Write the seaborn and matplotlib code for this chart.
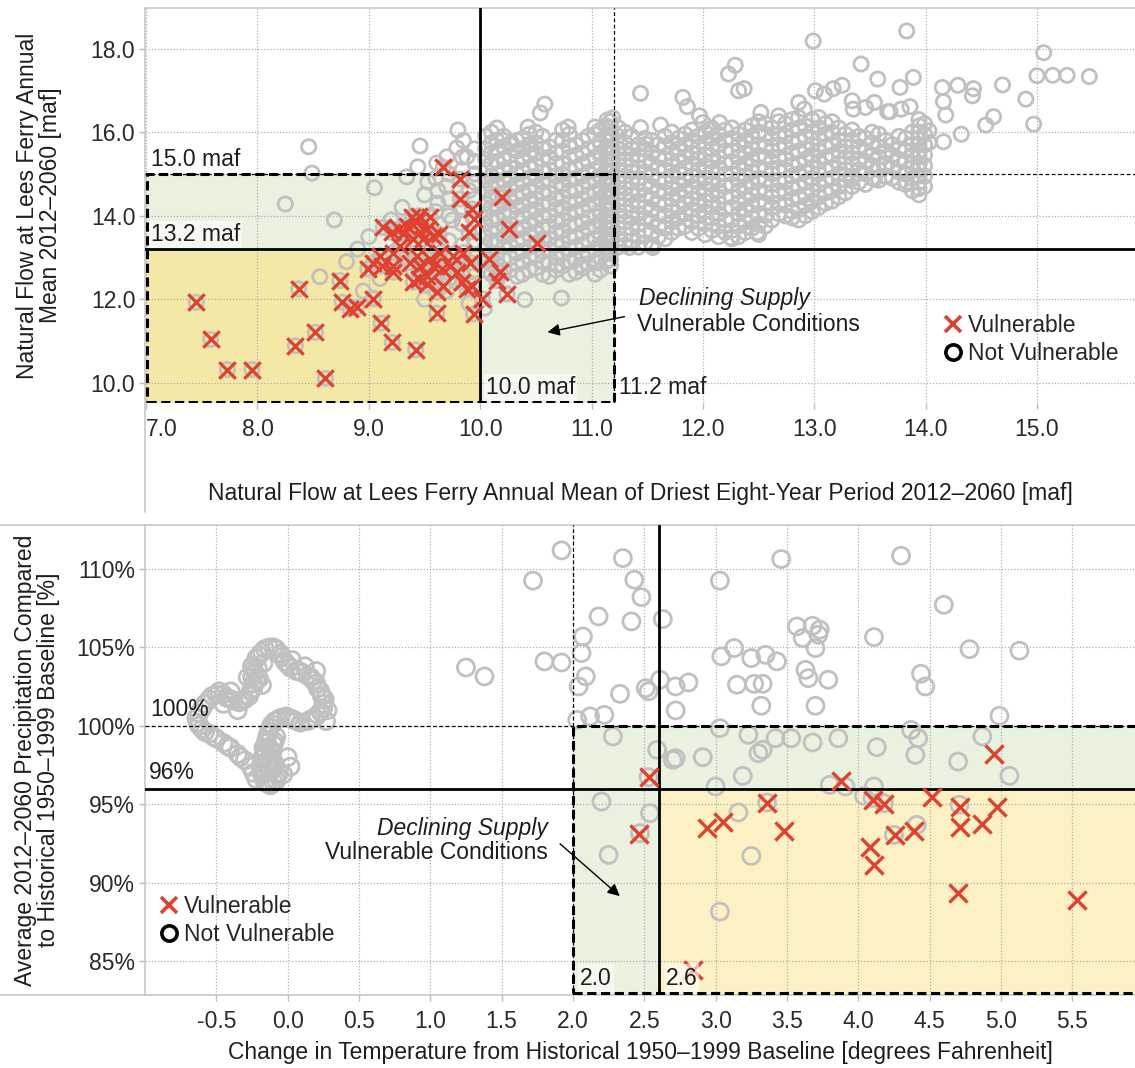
import numpy as np
import pandas as pd
import matplotlib
matplotlib.use("Agg")
import matplotlib.pyplot as plt
import seaborn as sns
from matplotlib.lines import Line2D
from matplotlib.patches import Rectangle

# ---------------- DATA ----------------
# Top panel thresholds (maf)
top_x_inner, top_x_outer = 10.0, 11.2
top_y_inner, top_y_outer = 13.2, 15.0
top_xticks = [7.0, 8.0, 9.0, 10.0, 11.0, 12.0, 13.0, 14.0, 15.0]
top_yticks = [10.0, 12.0, 14.0, 16.0, 18.0]

# Top panel: vulnerable scenarios
top_red_x = [7.45, 7.58, 7.73, 7.95, 8.34, 8.37, 8.52, 8.61, 8.74, 8.76, 8.83, 8.89, 9.04, 9.11, 9.21,
             9.42, 9.61, 9.94, 10.02, 10.24, 10.15, 10.18, 10.08, 10.51, 10.26, 10.20, 9.67, 9.82, 9.82,
             9.93, 9.94, 9.90, 9.13, 9.21, 9.27, 9.31, 9.34, 9.39, 9.42, 9.45, 9.46, 9.49, 9.52, 9.55,
             9.58, 9.63, 9.40, 9.28, 9.22, 9.10, 9.04, 8.99, 9.12, 9.22, 9.43, 9.46, 9.52, 9.58, 9.66,
             9.67, 9.73, 9.79, 9.84, 9.88, 9.93, 9.61, 9.52, 9.45, 9.85, 9.91, 9.76, 9.55, 9.37, 9.64,
             9.40, 9.22]
top_red_y = [11.93, 11.04, 10.32, 10.32, 10.89, 12.25, 11.21, 10.11, 12.45, 11.93, 11.77, 11.81, 12.01,
             11.43, 10.97, 10.79, 11.67, 11.65, 12.01, 12.13, 12.45, 12.65, 12.96, 13.35, 13.68, 14.46,
             15.16, 14.88, 14.40, 14.16, 13.92, 13.60, 13.72, 13.60, 13.68, 13.56, 13.76, 13.96, 13.84,
             14.00, 13.60, 13.44, 13.68, 13.96, 13.52, 13.56, 13.44, 13.28, 13.12, 13.04, 12.88, 12.73,
             12.80, 12.65, 13.04, 12.80, 12.57, 12.80, 12.73, 12.33, 12.80, 12.65, 12.41, 12.25, 12.33,
             12.17, 12.37, 12.49, 13.12, 12.88, 13.04, 12.96, 12.88, 13.12, 12.41, 12.80]

# Top panel: not-vulnerable scattered scenarios
top_gray_x = [8.46, 8.49, 8.25, 8.69, 9.05, 9.46, 9.80, 9.79, 9.70, 9.88, 9.61, 9.53, 9.44, 9.34, 8.56,
              9.58, 9.04, 8.80, 8.90, 9.00, 9.20, 9.30, 9.50, 9.60, 9.70, 9.75, 9.90, 9.95, 9.65, 9.80,
              9.70, 9.90, 10.04, 9.50, 9.40, 9.30, 9.10, 8.95, 9.85, 9.60,
              9.62, 9.62, 9.62, 9.62, 9.72, 9.72, 9.72, 9.72, 9.72, 9.84, 9.84, 9.84, 9.84, 9.84, 9.84,
              9.95, 9.95, 9.95, 9.95, 9.95, 9.95, 9.95,
              10.58, 10.54, 10.43, 10.79, 11.03, 11.14, 11.19, 10.73, 10.40, 10.69, 10.90, 11.05, 11.34,
              11.55, 12.25, 12.49, 10.20, 10.28, 10.46, 10.38,
              13.83, 12.99, 15.06, 15.00, 15.14, 15.27, 15.47, 14.90, 14.97, 14.69, 14.61, 14.54, 14.32,
              14.16, 14.15, 14.29, 14.43, 14.42, 14.16, 14.18, 13.89, 13.77, 13.86, 13.78, 13.68, 13.57,
              13.42, 11.44, 11.82, 11.86, 12.23, 12.29, 12.32, 12.37, 13.01, 13.09, 13.17, 13.25, 13.34,
              13.35, 13.46, 13.54, 13.66, 12.86, 12.91, 11.97, 12.00, 12.06, 12.15, 12.52, 12.68, 11.62,
              11.44, 11.49, 14.03, 14.03, 13.94, 13.94, 13.83, 13.83, 13.54, 13.63, 13.34]
top_gray_y = [15.65, 15.02, 14.28, 13.90, 14.67, 15.67, 16.05, 15.62, 15.41, 15.41, 15.26, 14.81, 15.17,
              14.93, 12.54, 12.42, 12.03, 12.90, 13.20, 13.50, 13.90, 14.20, 14.50, 14.10, 14.70, 13.90,
              14.60, 15.00, 13.30, 12.90, 12.20, 11.90, 11.79, 12.00, 12.70, 13.00, 12.50, 12.20, 15.80,
              14.90,
              13.00, 13.30, 14.30, 14.60, 12.50, 13.40, 14.00, 14.40, 15.00, 12.60, 13.30, 13.80, 14.20,
              15.10, 15.40, 12.70, 13.00, 13.40, 14.40, 14.80, 15.30, 15.60,
              16.67, 16.46, 16.12, 16.12, 16.12, 16.29, 16.34, 12.03, 11.99, 12.82, 12.82, 12.87, 13.24,
              13.24, 13.48, 13.60, 15.81, 15.74, 15.57, 15.41,
              18.42, 18.18, 17.90, 17.35, 17.36, 17.36, 17.33, 16.79, 16.19, 17.13, 16.37, 16.17, 15.95,
              15.77, 17.07, 17.12, 17.04, 16.87, 16.73, 16.41, 17.31, 17.07, 16.61, 16.55, 16.49, 17.27,
              17.63, 16.93, 16.83, 16.61, 17.39, 17.60, 16.99, 17.04, 16.99, 16.91, 17.04, 17.12, 16.75,
              16.55, 16.59, 16.71, 16.49, 16.71, 16.55, 16.39, 16.23, 16.07, 16.23, 16.47, 16.39, 16.17,
              16.11, 15.71, 16.03, 15.75, 15.51, 15.24, 15.00, 14.80, 14.88, 15.20, 14.88]

# Top panel: dense band of not-vulnerable scenarios (x value, list of y values)
top_dense_x = [10.05, 10.15, 10.27, 10.38, 10.50, 10.62, 10.74, 10.86, 10.97, 11.08, 11.17, 11.30,
               11.42, 11.54, 11.66, 11.78, 11.90, 12.02, 12.14, 12.26, 12.38, 12.50, 12.62, 12.74,
               12.86, 12.98, 13.10, 13.22, 13.34, 13.46, 13.58, 13.70, 13.82, 13.94,
               10.10, 10.21, 10.33, 10.44, 10.56, 10.68, 10.80, 10.92, 11.03, 11.13, 11.24, 11.36,
               11.48, 11.60, 11.72, 11.84, 11.96, 12.08, 12.20, 12.32, 12.44, 12.56, 12.68, 12.80,
               12.92, 13.04, 13.16, 13.28, 13.40, 13.52, 13.64, 13.76, 13.88, 13.99]
top_dense_y = [
    [12.70, 12.95, 13.25, 13.50, 13.80, 14.05, 14.30, 14.60, 14.85, 15.10, 15.35, 15.60, 15.90],
    [12.55, 12.85, 13.10, 13.40, 13.65, 13.95, 14.20, 14.50, 14.75, 15.00, 15.30, 15.55, 15.80, 16.10],
    [12.70, 13.00, 13.30, 13.55, 13.80, 14.10, 14.35, 14.65, 14.90, 15.15, 15.45, 15.70],
    [12.60, 12.90, 13.15, 13.45, 13.70, 14.00, 14.25, 14.55, 14.80, 15.05, 15.35, 15.60, 15.85],
    [12.75, 13.05, 13.30, 13.60, 13.90, 14.15, 14.40, 14.70, 14.95, 15.20, 15.50, 15.75, 16.00],
    [12.55, 12.85, 13.20, 13.45, 13.75, 14.00, 14.30, 14.55, 14.85, 15.10, 15.40, 15.65],
    [12.80, 13.10, 13.35, 13.65, 13.90, 14.20, 14.45, 14.75, 15.00, 15.25, 15.55, 15.80, 16.05],
    [12.65, 12.95, 13.25, 13.50, 13.80, 14.10, 14.35, 14.60, 14.90, 15.15, 15.45, 15.70],
    [12.85, 13.10, 13.40, 13.70, 13.95, 14.25, 14.50, 14.80, 15.05, 15.30, 15.60, 15.90],
    [12.70, 13.00, 13.30, 13.55, 13.85, 14.10, 14.40, 14.65, 14.95, 15.20, 15.50, 15.75, 16.05],
    [12.80, 12.95, 13.10, 13.25, 13.40, 13.55, 13.70, 13.85, 14.00, 14.15, 14.30, 14.45, 14.60, 14.75,
     14.90, 15.05, 15.20, 15.35, 15.50, 15.65, 15.80, 15.95, 16.10, 16.25],
    [13.30, 13.55, 13.85, 14.10, 14.40, 14.65, 14.95, 15.20, 15.50, 15.75, 16.00],
    [13.25, 13.50, 13.80, 14.05, 14.35, 14.60, 14.90, 15.15, 15.45, 15.70],
    [13.30, 13.60, 13.85, 14.15, 14.40, 14.70, 14.95, 15.25, 15.50, 15.80],
    [13.45, 13.70, 14.00, 14.25, 14.55, 14.80, 15.10, 15.35, 15.65, 15.90],
    [13.70, 13.95, 14.20, 14.50, 14.75, 15.05, 15.30, 15.60, 15.85],
    [13.60, 13.85, 14.15, 14.40, 14.70, 14.95, 15.25, 15.50, 15.80, 16.05],
    [13.55, 13.80, 14.10, 14.35, 14.65, 14.90, 15.20, 15.45, 15.75, 16.00],
    [13.50, 13.75, 14.05, 14.30, 14.60, 14.85, 15.15, 15.40, 15.70, 15.95],
    [13.45, 13.65, 13.90, 14.20, 14.45, 14.75, 15.00, 15.30, 15.55, 15.85, 16.10],
    [13.60, 13.85, 14.15, 14.40, 14.70, 14.95, 15.25, 15.50, 15.80, 16.05],
    [13.55, 13.80, 14.05, 14.35, 14.60, 14.90, 15.15, 15.45, 15.70, 16.00, 16.25],
    [13.90, 14.20, 14.45, 14.75, 15.00, 15.30, 15.55, 15.85, 16.10],
    [14.00, 14.25, 14.55, 14.80, 15.10, 15.35, 15.65, 15.90, 16.20],
    [13.90, 14.15, 14.45, 14.70, 15.00, 15.25, 15.55, 15.80, 16.10, 16.35],
    [14.10, 14.35, 14.60, 14.90, 15.15, 15.45, 15.70, 16.00, 16.30],
    [14.30, 14.55, 14.85, 15.10, 15.40, 15.65, 15.95, 16.20],
    [14.45, 14.70, 15.00, 15.25, 15.55, 15.80, 16.10],
    [14.70, 14.95, 15.25, 15.50, 15.80, 16.05],
    [14.75, 15.00, 15.30, 15.55, 15.85],
    [14.85, 15.10, 15.40, 15.65, 15.95],
    [14.90, 15.15, 15.45, 15.70],
    [14.75, 15.00, 15.30, 15.55, 15.85],
    [14.50, 14.65, 14.80, 14.95, 15.10, 15.25, 15.40, 15.55, 15.70, 15.85, 16.00, 16.15, 16.30],
    # interleaved columns
    [12.60, 12.85, 13.10, 13.40, 13.65, 13.90, 14.20, 14.45, 14.70, 14.95, 15.25, 15.50, 15.75, 16.00],
    [12.70, 12.95, 13.25, 13.50, 13.75, 14.05, 14.30, 14.55, 14.85, 15.10, 15.35, 15.65, 15.90],
    [12.55, 12.85, 13.10, 13.40, 13.65, 13.95, 14.20, 14.45, 14.75, 15.00, 15.30, 15.55, 15.80],
    [12.70, 13.00, 13.25, 13.55, 13.80, 14.10, 14.35, 14.60, 14.90, 15.15, 15.45, 15.70, 15.95],
    [12.60, 12.90, 13.15, 13.45, 13.70, 14.00, 14.25, 14.55, 14.80, 15.05, 15.35, 15.60, 15.90],
    [12.70, 13.00, 13.30, 13.60, 13.85, 14.15, 14.40, 14.70, 14.95, 15.25, 15.50, 15.80],
    [12.60, 12.90, 13.20, 13.50, 13.75, 14.05, 14.30, 14.60, 14.85, 15.10, 15.40, 15.65, 15.95],
    [12.75, 13.05, 13.30, 13.60, 13.85, 14.15, 14.40, 14.70, 14.95, 15.25, 15.50, 15.80],
    [12.60, 12.90, 13.20, 13.45, 13.75, 14.00, 14.30, 14.55, 14.85, 15.10, 15.40, 15.65, 15.95],
    [12.90, 13.15, 13.45, 13.70, 14.00, 14.25, 14.55, 14.80, 15.10, 15.35, 15.60, 15.90, 16.15],
    [13.25, 13.45, 13.70, 14.00, 14.25, 14.55, 14.80, 15.10, 15.35, 15.60, 15.90, 16.10],
    [13.40, 13.70, 13.95, 14.25, 14.50, 14.80, 15.05, 15.35, 15.60, 15.90],
    [13.35, 13.65, 13.95, 14.20, 14.50, 14.75, 15.05, 15.30, 15.60, 15.85],
    [13.50, 13.75, 14.05, 14.30, 14.60, 14.85, 15.15, 15.40, 15.70],
    [13.60, 13.85, 14.10, 14.40, 14.65, 14.95, 15.20, 15.50, 15.75, 16.00],
    [13.75, 14.05, 14.30, 14.60, 14.85, 15.15, 15.40, 15.70, 15.95],
    [13.70, 14.00, 14.25, 14.55, 14.80, 15.10, 15.35, 15.65, 15.90],
    [13.65, 13.95, 14.20, 14.50, 14.75, 15.05, 15.30, 15.60, 15.85, 16.10],
    [13.60, 13.90, 14.15, 14.45, 14.70, 15.00, 15.25, 15.55, 15.80, 16.05],
    [13.50, 13.75, 14.05, 14.30, 14.60, 14.85, 15.15, 15.40, 15.70, 15.95],
    [13.70, 13.95, 14.25, 14.50, 14.80, 15.05, 15.35, 15.60, 15.90, 16.15],
    [13.75, 14.00, 14.30, 14.55, 14.85, 15.10, 15.40, 15.65, 15.95, 16.20],
    [14.05, 14.30, 14.60, 14.85, 15.15, 15.40, 15.70, 15.95, 16.25],
    [13.95, 14.10, 14.40, 14.65, 14.95, 15.20, 15.50, 15.75, 16.05, 16.30],
    [14.00, 14.25, 14.50, 14.80, 15.05, 15.35, 15.60, 15.90, 16.15],
    [14.20, 14.45, 14.75, 15.00, 15.30, 15.55, 15.85, 16.10, 16.35],
    [14.35, 14.60, 14.90, 15.15, 15.45, 15.70, 16.00, 16.25],
    [14.55, 14.85, 15.10, 15.40, 15.65, 15.95],
    [14.80, 15.10, 15.35, 15.65, 15.90],
    [14.90, 15.20, 15.45, 15.75, 16.00],
    [14.95, 15.25, 15.55, 15.80],
    [14.80, 15.05, 15.35, 15.60, 15.90],
    [14.60, 14.90, 15.15, 15.45, 15.70, 16.00],
    [14.70, 14.95, 15.20, 15.45, 15.70, 15.95, 16.20],
]

# Bottom panel thresholds
bot_x_outer, bot_x_inner = 2.0, 2.6
bot_y_outer, bot_y_inner = 100.0, 96.0
bot_xticks = [-0.5, 0.0, 0.5, 1.0, 1.5, 2.0, 2.5, 3.0, 3.5, 4.0, 4.5, 5.0, 5.5]
bot_yticks = [85, 90, 95, 100, 105, 110]

bot_red_x = [2.53, 2.46, 2.94, 3.05, 3.36, 3.48, 3.88, 4.08, 4.11, 4.10, 4.18, 4.26, 4.39, 4.52, 4.71,
             4.71, 4.87, 4.97, 4.95, 4.70, 5.53, 2.84]
bot_red_y = [96.72, 93.09, 93.47, 93.89, 95.06, 93.26, 96.49, 92.26, 91.13, 95.28, 95.02, 93.04, 93.26,
             95.49, 94.81, 93.57, 93.74, 94.81, 98.21, 89.36, 88.89, 84.43]

bot_gray_x = [1.92, 1.72, 2.35, 2.43, 2.48, 2.18, 2.41, 2.63, 2.07, 2.06, 2.09, 2.04, 2.33, 1.80, 1.92,
              1.25, 1.38, 2.03, 2.12, 2.22, 2.28, 2.20, 2.25, 2.51, 2.53, 2.61, 2.72, 2.81, 2.72, 3.03,
              3.46, 4.30, 4.60, 3.57, 3.68, 3.73, 3.72, 3.61, 4.11, 3.13, 3.04, 3.25, 3.35, 3.43, 3.70,
              3.63, 3.65, 3.79, 3.15, 3.27, 3.33, 3.32, 3.70, 4.78, 5.13, 4.44, 4.47, 4.99,
              2.59, 2.70, 2.72, 2.91, 3.03, 3.23, 3.30, 3.33, 3.42, 3.53, 3.68, 3.86, 4.13, 4.37, 4.42,
              4.40, 4.70, 4.87, 5.06, 3.19, 3.00, 3.80, 3.91, 4.11, 2.53,
              2.54, 3.16, 3.36, 3.25, 3.03, 4.04, 4.18, 4.25, 4.41, 4.71, 2.47, 4.10,
              -0.62, -0.58, -0.53, -0.48, -0.43, -0.38, -0.34, -0.30, -0.27, -0.24, -0.22, -0.23, -0.25,
              -0.22, -0.18, -0.13, -0.08, -0.05, -0.02, 0.02, 0.06, 0.10, 0.14, 0.18, 0.21, 0.24, 0.25,
              0.23, 0.19, 0.14, 0.09, 0.04, -0.01, -0.05, -0.09, -0.12, -0.14, -0.15, -0.16, -0.18,
              -0.19, -0.18, -0.16, -0.12, -0.08, -0.06, -0.09, -0.11, -0.10, -0.08, -0.22, -0.26, -0.30,
              -0.35, -0.40, -0.45, -0.50, -0.55, -0.60, -0.63, -0.20, -0.18, -0.21, -0.17, -0.28, -0.12,
              -0.14, -0.13, 0.00, 0.02, -0.03, 0.03, 0.12, 0.20, 0.28, 0.27, -0.40, -0.45, -0.35,
              -0.60, -0.55, -0.50, -0.45, -0.40, -0.32, -0.26, -0.24, -0.25, -0.24, -0.20, -0.16, -0.10,
              -0.04, 0.00, 0.08, 0.16, 0.20, 0.23, 0.26, 0.25, 0.21, 0.16, 0.06, 0.01, -0.07, -0.11,
              -0.13, -0.15, -0.17, -0.17, -0.18, -0.17, -0.14, -0.10, -0.07, -0.10, -0.12, -0.12, -0.09,
              -0.24, -0.33, -0.42, -0.52, -0.58, -0.62, -0.64]
bot_gray_y = [111.19, 109.26, 110.70, 109.32, 108.21, 106.98, 106.66, 106.81, 105.70, 104.64, 103.15,
              102.51, 102.04, 104.11, 104.04, 103.72, 103.15, 100.38, 100.60, 100.70, 99.32, 95.17,
              91.77, 102.40, 102.20, 102.94, 102.51, 102.77, 100.98, 109.26, 110.64, 110.85, 107.72,
              106.34, 106.38, 106.13, 105.81, 105.60, 105.66, 104.96, 104.43, 104.32, 104.53, 104.11,
              104.96, 103.57, 103.04, 102.94, 102.62, 102.68, 102.68, 101.28, 101.28, 104.89, 104.79,
              103.32, 102.51, 100.64,
              98.47, 97.83, 97.94, 98.00, 99.85, 99.43, 98.26, 98.47, 99.21, 99.21, 98.94, 99.21, 98.64,
              99.74, 99.21, 98.15, 97.72, 99.32, 96.81, 96.81, 96.13, 96.23, 96.13, 96.13, 96.72,
              94.43, 94.47, 95.11, 91.70, 88.15, 95.53, 95.06, 93.04, 93.68, 94.96, 93.15, 95.40,
              100.8, 101.4, 101.9, 102.2, 101.8, 101.6, 101.5, 101.7, 101.9, 102.4, 102.9, 103.4, 103.8,
              104.3, 104.7, 105.0, 104.9, 104.6, 104.1, 103.7, 103.5, 103.4, 103.2, 102.9, 102.4, 101.9,
              101.4, 100.9, 100.5, 100.3, 100.2, 100.4, 100.6, 100.5, 100.3, 99.9, 99.4, 98.9, 98.4,
              97.9, 97.4, 96.9, 96.4, 96.2, 96.5, 97.0, 97.6, 98.2, 98.8, 99.3, 96.6, 97.4, 97.8, 98.2,
              98.6, 98.9, 99.2, 99.5, 99.8, 100.2, 103.0, 102.6, 103.7, 104.0, 103.1, 97.1, 97.8, 98.6,
              98.0, 97.4, 96.9, 104.2, 103.8, 103.5, 101.0, 100.3, 102.2, 101.4, 101.0,
              101.1, 101.7, 102.0, 102.0, 101.7, 101.6, 102.2, 102.7, 103.1, 103.6, 104.5, 104.9, 105.0,
              104.4, 103.9, 103.5, 103.1, 102.7, 102.2, 101.7, 101.1, 100.7, 100.4, 100.3, 100.5, 100.4,
              100.1, 99.6, 99.1, 98.6, 98.1, 97.6, 97.1, 96.3, 96.4, 96.8, 97.3, 97.9, 98.5, 99.0,
              97.0, 98.0, 98.7, 99.3, 99.6, 100.0, 100.5]

# ---------------- STYLE ----------------
sns.set_theme(style="white")
plt.rcParams["font.family"] = ["Liberation Sans", "DejaVu Sans"]

GRAY = "#c0c0c0"
RED = "#e2402f"
GREEN = "#e9f1df"
YEL_TOP = "#f4e8a6"
YEL_BOT = "#fcf1c4"
SPINE = "#c8c8c8"
TXT = "#1e1e1e"
FS = 16.5

W, H = 1135, 1068
fig = plt.figure(figsize=(W / 100, H / 100), dpi=100)


def frect(l, t, r, b):
    return [l / W, 1 - b / H, (r - l) / W, (b - t) / H]


ax1 = fig.add_axes(frect(145, 8, 1135, 403))
ax2 = fig.add_axes(frect(145, 525, 1135, 995))

# ---------------- TOP PANEL ----------------
df_top_dense = pd.DataFrame({"x": top_dense_x, "y": top_dense_y}).explode("y")
df_top_dense["y"] = df_top_dense["y"].astype(float)
df_top_gray = pd.concat([
    pd.DataFrame({"x": top_gray_x, "y": top_gray_y}),
    df_top_dense,
    pd.DataFrame({"x": top_red_x, "y": top_red_y}),
], ignore_index=True)
df_top_red = pd.DataFrame({"x": top_red_x, "y": top_red_y})

x0, x1 = 6.99, 15.88
y0, y1 = 9.52, 18.97
ax1.set_xlim(x0, x1)
ax1.set_ylim(y0, y1)

ax1.fill_between([x0, top_x_outer], y0, top_y_outer, color=GREEN, lw=0, zorder=0.1)
ax1.fill_between([x0, top_x_inner], y0, top_y_inner, color=YEL_TOP, lw=0, zorder=0.2)

sns.scatterplot(data=df_top_gray, x="x", y="y", ax=ax1, marker="o", s=105, facecolor="none",
                edgecolor=GRAY, linewidth=2.0, zorder=2, legend=False)
sns.scatterplot(data=df_top_red, x="x", y="y", ax=ax1, marker="x", s=140, color=RED,
                linewidth=2.3, zorder=4, legend=False)

ax1.axvline(top_x_inner, color="black", lw=2.0, zorder=3)
ax1.axhline(top_y_inner, color="black", lw=2.0, zorder=3)
ax1.axvline(top_x_outer, color="black", lw=0.9, ls=(0, (3, 2)), zorder=3)
ax1.axhline(top_y_outer, color="black", lw=0.9, ls=(0, (3, 2)), zorder=3)
ax1.add_patch(Rectangle((x0 + 0.02, y0 + 0.03), top_x_outer - x0 - 0.02, top_y_outer - y0 - 0.03,
                        fill=False, ec="black", lw=2.2, ls=(0, (3, 1.5)), zorder=3.5))

ax1.text(x0 + 0.05, top_y_outer + 0.08, "15.0 maf", fontsize=FS, color=TXT, va="bottom", ha="left", zorder=5)
ax1.text(x0 + 0.05, top_y_inner + 0.08, "13.2 maf", fontsize=FS, color=TXT, va="bottom", ha="left", zorder=5,
         bbox=dict(facecolor="white", alpha=0.6, edgecolor="none", pad=1.5))
ax1.text(top_x_inner + 0.05, y0 + 0.1, "10.0 maf", fontsize=FS, color=TXT, va="bottom", ha="left", zorder=5,
         bbox=dict(facecolor="white", alpha=0.6, edgecolor="none", pad=1.5))
ax1.text(top_x_outer + 0.05, y0 + 0.1, "11.2 maf", fontsize=FS, color=TXT, va="bottom", ha="left", zorder=5)

ax1.text(11.43, 12.01, "Declining Supply", fontsize=FS, color=TXT, style="italic", va="center", ha="left")
ax1.text(11.41, 11.39, "Vulnerable Conditions", fontsize=FS, color=TXT, va="center", ha="left")
ax1.annotate("", xy=(10.58, 11.20), xytext=(11.32, 11.60),
             arrowprops=dict(arrowstyle="-|>", color="black", lw=1.0, mutation_scale=18), zorder=5)

ax1.set_xticks(top_xticks)
ax1.set_xticklabels([f"{v:.1f}" for v in top_xticks])
ax1.get_xticklabels()[0].set_horizontalalignment("left")
ax1.set_yticks(top_yticks)
ax1.set_yticklabels([f"{v:.1f}" for v in top_yticks])
ax1.set_xlabel("Natural Flow at Lees Ferry Annual Mean of Driest Eight-Year Period 2012\u20132060 [maf]",
               fontsize=FS, color=TXT)
ax1.set_ylabel("Natural Flow at Lees Ferry Annual\nMean 2012\u20132060 [maf]", fontsize=FS, color=TXT,
               linespacing=1.0)
ax1.xaxis.set_label_coords(0.5, -0.2)
ax1.yaxis.set_label_coords(-0.084, 0.5)

h_x = Line2D([], [], marker="x", color=RED, ls="none", markersize=12, mew=2.6)
h_o = Line2D([], [], marker="o", mfc="none", mec="black", ls="none", markersize=11, mew=2.6)
ax1.legend([h_x, h_o], ["Vulnerable", "Not Vulnerable"], loc="upper left", bbox_to_anchor=(0.805, 0.225),
           frameon=False, fontsize=FS, handletextpad=0.15, labelspacing=0.2, borderpad=0,
           handlelength=1.0, borderaxespad=0)

# ---------------- BOTTOM PANEL ----------------
df_bot_gray = pd.DataFrame({"x": bot_gray_x, "y": bot_gray_y})
df_bot_red = pd.DataFrame({"x": bot_red_x, "y": bot_red_y})

bx0, bx1 = -1.0, 5.94
by0, by1 = 82.83, 112.81
ax2.set_xlim(bx0, bx1)
ax2.set_ylim(by0, by1)

ax2.fill_between([bot_x_outer, bx1], by0, bot_y_outer, color=GREEN, lw=0, zorder=0.1)
ax2.fill_between([bot_x_inner, bx1], by0, bot_y_inner, color=YEL_BOT, lw=0, zorder=0.2)

sns.scatterplot(data=df_bot_gray, x="x", y="y", ax=ax2, marker="o", s=150, facecolor="none",
                edgecolor=GRAY, linewidth=2.0, zorder=2, legend=False)
sns.scatterplot(data=df_bot_red, x="x", y="y", ax=ax2, marker="x", s=170, color=RED,
                linewidth=2.4, zorder=4, legend=False)

ax2.axvline(bot_x_inner, color="black", lw=2.0, zorder=3)
ax2.axhline(bot_y_inner, color="black", lw=2.0, zorder=3)
ax2.axvline(bot_x_outer, color="black", lw=0.9, ls=(0, (3, 2)), zorder=3)
ax2.axhline(bot_y_outer, color="black", lw=0.9, ls=(0, (3, 2)), zorder=3)
ax2.add_patch(Rectangle((bot_x_outer, by0 + 0.15), bx1 + 1 - bot_x_outer, bot_y_outer - by0 - 0.15,
                        fill=False, ec="black", lw=2.2, ls=(0, (3, 1.5)), zorder=3.5))

ax2.text(bx0 + 0.04, bot_y_outer + 0.3, "100%", fontsize=FS, color=TXT, va="bottom", ha="left", zorder=5)
ax2.text(bx0 + 0.03, bot_y_inner + 0.3, "96%", fontsize=FS, color=TXT, va="bottom", ha="left", zorder=5)
ax2.text(bot_x_outer + 0.05, by0 + 0.35, "2.0", fontsize=FS, color=TXT, va="bottom", ha="left", zorder=5,
         bbox=dict(facecolor="white", alpha=0.6, edgecolor="none", pad=1.5))
ax2.text(bot_x_inner + 0.05, by0 + 0.35, "2.6", fontsize=FS, color=TXT, va="bottom", ha="left", zorder=5,
         bbox=dict(facecolor="white", alpha=0.6, edgecolor="none", pad=1.5))

ax2.text(1.825, 93.48, "Declining Supply", fontsize=FS, color=TXT, style="italic", va="center", ha="right")
ax2.text(1.825, 91.89, "Vulnerable Conditions", fontsize=FS, color=TXT, va="center", ha="right")
ax2.annotate("", xy=(2.343, 89.02), xytext=(1.895, 92.59),
             arrowprops=dict(arrowstyle="-|>", color="black", lw=1.0, mutation_scale=18), zorder=5)

ax2.set_xticks(bot_xticks)
ax2.set_xticklabels([f"{v:.1f}" for v in bot_xticks])
ax2.set_yticks(bot_yticks)
ax2.set_yticklabels([f"{v}%" for v in bot_yticks])
ax2.set_xlabel("Change in Temperature from Historical 1950\u20131999 Baseline [degrees Fahrenheit]",
               fontsize=FS, color=TXT)
ax2.set_ylabel("Average 2012\u20132060 Precipitation Compared\nto Historical 1950\u20131999 Baseline [%]",
               fontsize=FS, color=TXT, linespacing=1.0)
ax2.xaxis.set_label_coords(0.5, -0.098)
ax2.yaxis.set_label_coords(-0.086, 0.5)

ax2.legend([h_x, h_o], ["Vulnerable", "Not Vulnerable"], loc="upper left", bbox_to_anchor=(0.013, 0.212),
           frameon=False, fontsize=FS, handletextpad=0.15, labelspacing=0.2, borderpad=0,
           handlelength=1.0, borderaxespad=0)

# ---------------- COMMON AXIS STYLE ----------------
for ax in (ax1, ax2):
    ax.grid(True, color="#b0b0b0", linestyle=(0, (1, 1.5)), linewidth=0.9)
    ax.set_axisbelow(True)
    ax.tick_params(axis="both", which="major", bottom=True, left=True, length=4, width=1,
                   color="#bdbdbd", labelsize=FS, labelcolor="#2a2a2a", direction="out")
    ax.tick_params(axis="x", pad=7)
    ax.tick_params(axis="y", pad=3)
    ax.spines["right"].set_visible(False)
    for side in ("left", "top", "bottom"):
        ax.spines[side].set_color(SPINE)
        ax.spines[side].set_linewidth(1.2)
ax1.spines["bottom"].set_visible(False)

# panel frame extensions (figure coordinates)
for (xa, ya, xb, yb) in [(145, 403, 145, 512), (0, 525, 145, 525), (0, 995, 145, 995)]:
    fig.add_artist(Line2D([xa / W, xb / W], [1 - ya / H, 1 - yb / H], color=SPINE, lw=1.2,
                          transform=fig.transFigure))

fig.savefig("out.png", dpi=100, facecolor="white")
